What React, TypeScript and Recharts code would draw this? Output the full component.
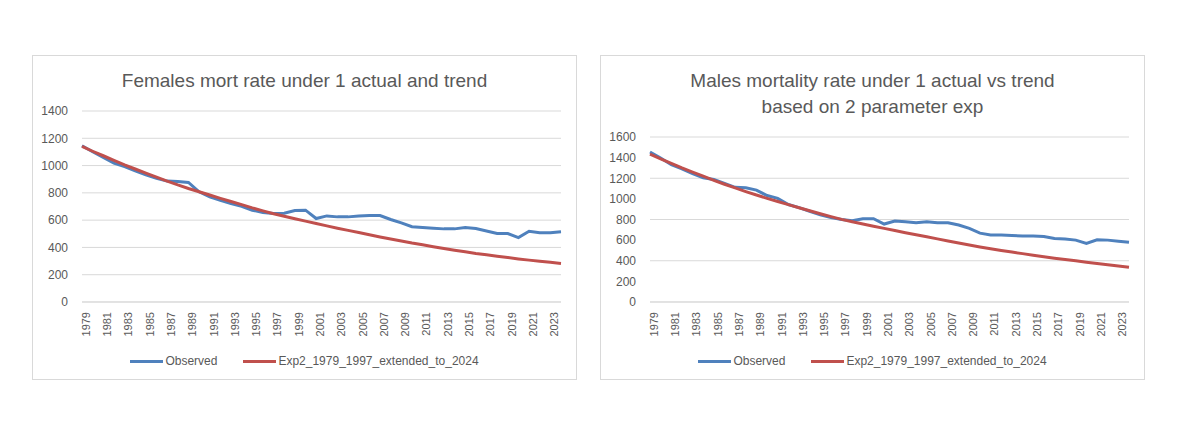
import React from "react";
import { LineChart, Line, XAxis, YAxis, CartesianGrid, Legend } from "recharts";

// categories (years) and values
const years = [
  1979, 1980, 1981, 1982, 1983, 1984, 1985, 1986, 1987, 1988, 1989, 1990,
  1991, 1992, 1993, 1994, 1995, 1996, 1997, 1998, 1999, 2000, 2001, 2002,
  2003, 2004, 2005, 2006, 2007, 2008, 2009, 2010, 2011, 2012, 2013, 2014,
  2015, 2016, 2017, 2018, 2019, 2020, 2021, 2022, 2023, 2024,
];

const femaleObserved = [
  1145, 1101, 1060, 1018, 992, 962, 932, 906, 886, 884, 876, 808,
  771, 746, 722, 702, 673, 656, 649, 650, 670, 673, 612, 631,
  624, 624, 631, 634, 634, 605, 580, 552, 546, 541, 536, 536,
  546, 538, 521, 502, 502, 472, 519, 507, 508, 515,
];

const femaleTrend = [
  1140, 1105, 1072, 1038, 1005, 975, 945, 915, 886, 858, 832, 808,
  784, 760, 737, 714, 690, 668, 647, 628, 610, 593, 576, 558,
  541, 525, 509, 493, 477, 462, 447, 432, 419, 405, 392, 380,
  368, 356, 346, 336, 326, 316, 307, 299, 291, 283,
];

const maleObserved = [
  1454, 1396, 1331, 1292, 1245, 1205, 1188, 1150, 1112, 1108, 1085, 1032,
  1005, 945, 915, 880, 845, 818, 800, 788, 808, 808, 756, 785,
  779, 769, 779, 769, 769, 746, 714, 668, 650, 649, 646, 639,
  639, 635, 615, 612, 600, 568, 603, 600, 590, 580,
];

const maleTrend = [
  1435, 1388, 1344, 1300, 1260, 1220, 1180, 1142, 1106, 1071, 1038, 1005,
  974, 944, 914, 885, 856, 828, 801, 778, 756, 735, 714, 693,
  672, 652, 632, 612, 592, 572, 553, 534, 517, 500, 484, 469,
  453, 439, 425, 412, 399, 386, 373, 361, 349, 337,
];

const femaleTicks = [0, 200, 400, 600, 800, 1000, 1200, 1400];
const maleTicks = [0, 200, 400, 600, 800, 1000, 1200, 1400, 1600];

const observedName = "Observed";
const trendName = "Exp2_1979_1997_extended_to_2024";
const legendOrder = [observedName, trendName];

const femaleData = years.map((year, i) => ({
  year,
  observed: femaleObserved[i],
  trend: femaleTrend[i],
}));

const maleData = years.map((year, i) => ({
  year,
  observed: maleObserved[i],
  trend: maleTrend[i],
}));

const FONT = '"Liberation Sans", Arial, sans-serif';
const TEXT = "#595959";
const GRID = "#d9d9d9";
const BLUE = "#4f81bd";
const RED = "#c0504d";
const W = 545;
const H = 325;

function LegendRow(props: any) {
  // recharts sorts legend items by name, Excel keeps series order
  const items = [...(props.payload || [])].sort(
    (a: any, b: any) => legendOrder.indexOf(a.value) - legendOrder.indexOf(b.value)
  );
  return (
    <div
      style={{
        display: "flex",
        justifyContent: "center",
        alignItems: "center",
        height: 20,
        fontFamily: FONT,
        fontSize: 12,
        color: TEXT,
      }}
    >
      {items.map((it: any, i: number) => (
        <div
          key={it.value}
          style={{ display: "flex", alignItems: "center", marginLeft: i ? 26 : 0 }}
        >
          <span
            style={{ width: 33, height: 3, background: it.color, marginRight: 2 }}
          />
          <span>{it.value}</span>
        </div>
      ))}
    </div>
  );
}

function Panel({ left, data, ticks, max, title, top }: any) {
  return (
    <div style={{ position: "absolute", left, top: 55, width: W, height: H }}>
      <LineChart
        width={W}
        height={H}
        data={data}
        margin={{ top, right: 16, bottom: 9, left: 0 }}
        style={{ position: "absolute", left: 0, top: 0 }}
      >
        <CartesianGrid vertical={false} stroke={GRID} strokeWidth={1} />
        <XAxis
          dataKey="year"
          interval={1}
          angle={-90}
          textAnchor="end"
          height={49}
          tickLine={false}
          tickSize={6}
          tickMargin={4}
          axisLine={{ stroke: GRID }}
          tick={{ fontSize: 11, fill: TEXT, fontFamily: FONT }}
        />
        <YAxis
          domain={[0, max]}
          ticks={ticks}
          width={50}
          axisLine={false}
          tickLine={false}
          tickSize={6}
          tickMargin={8}
          tick={{ fontSize: 12, fill: TEXT, fontFamily: FONT }}
        />
        <Legend
          verticalAlign="bottom"
          content={LegendRow}
          wrapperStyle={{ left: 0, width: W }}
        />
        <Line
          dataKey="observed"
          name={observedName}
          stroke={BLUE}
          strokeWidth={3}
          dot={false}
          isAnimationActive={false}
        />
        <Line
          dataKey="trend"
          name={trendName}
          stroke={RED}
          strokeWidth={3}
          dot={false}
          isAnimationActive={false}
        />
      </LineChart>
      <div
        style={{
          position: "absolute",
          left: 0,
          top: 13,
          width: W,
          textAlign: "center",
          fontFamily: FONT,
          fontSize: 19,
          lineHeight: "25.5px",
          color: TEXT,
        }}
      >
        {title.map((t: string) => (
          <div key={t}>{t}</div>
        ))}
      </div>
      <div
        style={{
          position: "absolute",
          inset: 0,
          border: `1px solid ${GRID}`,
          boxSizing: "border-box",
          pointerEvents: "none",
        }}
      />
    </div>
  );
}

export default function App() {
  return (
    <div
      style={{
        position: "absolute",
        left: 0,
        top: 0,
        width: 1200,
        height: 442,
        background: "#fff",
      }}
    >
      <Panel
        left={32}
        data={femaleData}
        ticks={femaleTicks}
        max={1400}
        top={56}
        title={["Females mort rate under 1 actual and trend"]}
      />
      <Panel
        left={600}
        data={maleData}
        ticks={maleTicks}
        max={1600}
        top={82}
        title={[
          "Males mortality rate under 1 actual vs trend",
          "based on 2 parameter exp",
        ]}
      />
    </div>
  );
}
